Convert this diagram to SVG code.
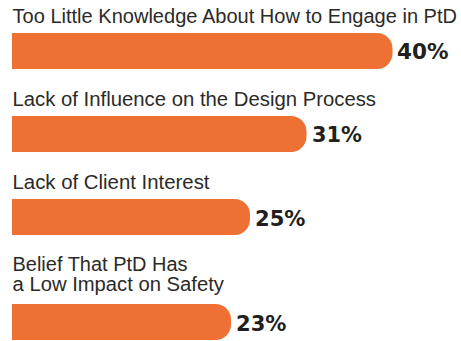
<svg xmlns="http://www.w3.org/2000/svg" width="461" height="341" viewBox="0 0 461 341">
<style>
.lbl{font-family:"Liberation Sans",Arial,sans-serif;font-size:20px;fill:#2b2a29}
.pct{font-family:"DejaVu Sans","Liberation Sans",sans-serif;font-weight:bold;font-size:21px;fill:#231f20}
.bar{fill:#ee7035}
</style>
<rect width="461" height="341" fill="#ffffff"/>
<g id="item1">
<text class="lbl" x="12.5" y="22.5" textLength="444.5" lengthAdjust="spacingAndGlyphs">Too Little Knowledge About How to Engage in PtD</text>
<path class="bar" d="M12,33 H377 A15.5,15.5 0 0 1 392.5,48.5 V53.5 A15.5,15.5 0 0 1 377,69 H12 Z"/>
<text class="pct" x="397" y="59.3" textLength="51.5" lengthAdjust="spacingAndGlyphs">40%</text>
</g>
<g id="item2">
<text class="lbl" x="12.5" y="105.8" textLength="363.5" lengthAdjust="spacingAndGlyphs">Lack of Influence on the Design Process</text>
<path class="bar" d="M12,116 H291 A15.5,15.5 0 0 1 306.5,131.5 V136.5 A15.5,15.5 0 0 1 291,152 H12 Z"/>
<text class="pct" x="312" y="142.3" textLength="50" lengthAdjust="spacingAndGlyphs">31%</text>
</g>
<g id="item3">
<text class="lbl" x="12.5" y="189.3" textLength="197" lengthAdjust="spacingAndGlyphs">Lack of Client Interest</text>
<path class="bar" d="M12,199 H234.5 A15.5,15.5 0 0 1 250,214.5 V219.5 A15.5,15.5 0 0 1 234.5,235 H12 Z"/>
<text class="pct" x="255" y="225.7" textLength="50.5" lengthAdjust="spacingAndGlyphs">25%</text>
</g>
<g id="item4">
<text class="lbl" x="12.5" y="271.3" textLength="175" lengthAdjust="spacingAndGlyphs">Belief That PtD Has</text>
<text class="lbl" x="12.5" y="291.3" textLength="211.5" lengthAdjust="spacingAndGlyphs">a Low Impact on Safety</text>
<path class="bar" d="M12,304 H215.5 A15.5,15.5 0 0 1 231,319.5 V324.5 A15.5,15.5 0 0 1 215.5,340 H12 Z"/>
<text class="pct" x="236" y="331" textLength="50.5" lengthAdjust="spacingAndGlyphs">23%</text>
</g>
</svg>
